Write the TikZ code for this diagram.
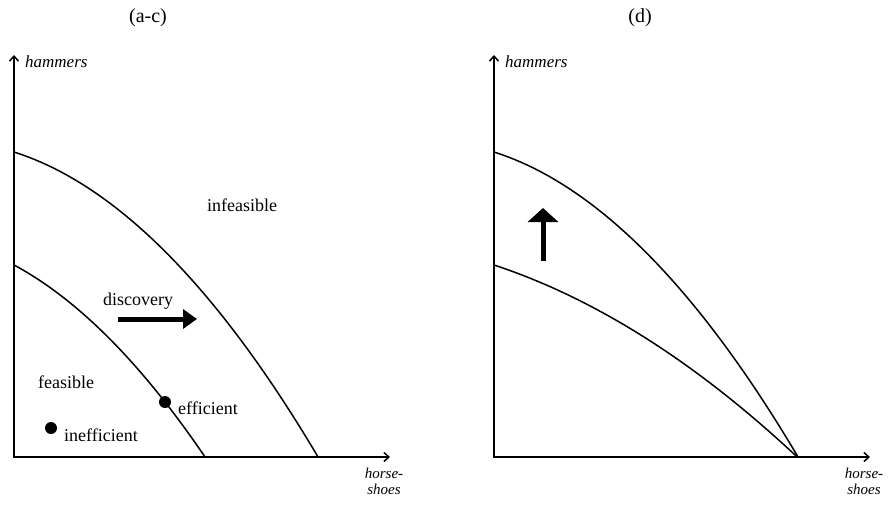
\documentclass[tikz,border=0pt]{standalone}
\usepackage{fontspec}
\setmainfont{Liberation Serif}
\usetikzlibrary{arrows.meta}

\tikzset{
  axis/.style={line width=1.5pt, {Straight Barb[length=5pt,width=9pt]}-{Straight Barb[length=5pt,width=9pt]}},
  frontier/.style={line width=1.5pt},
  lbl/.style={inner sep=0pt, anchor=base west, font=\fontsize{18}{20}\selectfont},
  axlbl/.style={inner sep=0pt, font=\fontsize{17}{17}\selectfont\itshape},
  shoelbl/.style={inner sep=0pt, font=\fontsize{15}{16}\selectfont\itshape},
  ttl/.style={inner sep=0pt, font=\fontsize{20}{22}\selectfont},
  bigarrow/.style={line width=5pt, -{Triangle[width=19pt,length=14pt]}},
  pt/.style={circle, fill=black, inner sep=0pt, minimum size=12pt},
}

\begin{document}
\begin{tikzpicture}[x=1pt, y=-1pt]
  \useasboundingbox (0,0) rectangle (890,504);
  % ================================================================
  % (a-c) shift of the frontier
  % ================================================================
  \begin{scope}[shift={(0,0)}]
    \draw[axis] (14,55) -- (14,457) -- (390,457);
    \node[ttl] (title-ac) at (148,18) {(a-c)};
    \node[axlbl, anchor=base west] (hammers-ac) at (25,67) {hammers};
    \node[shoelbl, align=center, anchor=north] (shoes-ac) at (384,468) {horse-\\shoes};
    % frontiers -------------------------------------------------------
    \draw[frontier] plot[domain=0:3.04, samples=80] ({14+100*\x}, {152+31.8*\x+22.53*\x*\x});
    \draw[frontier] plot[domain=0:1.91, samples=60] ({14+100*\x}, {265+53.7*\x+24.5*\x*\x});
    % labels ---------------------------------------------------------
    \node[lbl] (infeasible) at (207,211) {infeasible};
    \node[lbl] (discovery) at (103,305) {discovery};
    \node[lbl] (feasible) at (38,388) {feasible};
    \node[lbl] (efficient) at (178,414) {efficient};
    \node[lbl] (inefficient) at (64,441) {inefficient};
    % points and shift arrow -----------------------------------------
    \node[pt] (eff-pt) at (165,402) {};
    \node[pt] (ineff-pt) at (51,428) {};
    \coordinate (disc-from) at (118,319);
    \coordinate (disc-to) at (197,319);
    \draw[bigarrow] (disc-from) -- (disc-to);
  \end{scope}
  % ================================================================
  % (d) biased growth
  % ================================================================
  \begin{scope}[shift={(480,0)}]
    \draw[axis] (14,55) -- (14,457) -- (390,457);
    \node[ttl] (title-d) at (160,18) {(d)};
    \node[axlbl, anchor=base west] (hammers-d) at (25,67) {hammers};
    \node[shoelbl, align=center, anchor=north] (shoes-d) at (384,468) {horse-\\shoes};
    % frontiers -------------------------------------------------------
    \draw[frontier] plot[domain=0:3.04, samples=80] ({14+100*\x}, {152+31.8*\x+22.53*\x*\x});
    \draw[frontier] plot[domain=0:3.04, samples=80] ({14+100*\x}, {265+33*\x+10*\x*\x});
    % shift arrow ----------------------------------------------------
    \coordinate (up-from) at (63,261);
    \coordinate (up-to) at (63,208);
    \draw[bigarrow, -{Triangle[width=30pt,length=14pt]}] (up-from) -- (up-to);
  \end{scope}
\end{tikzpicture}
\end{document}
